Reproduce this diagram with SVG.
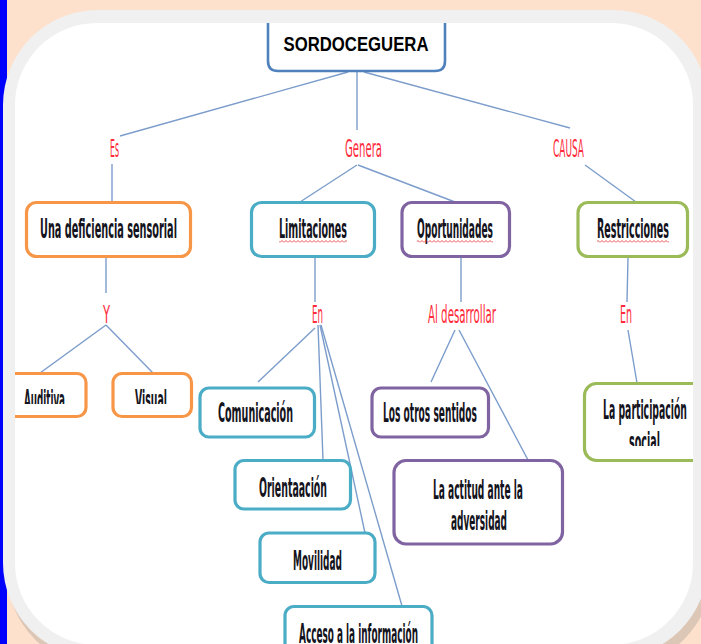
<svg xmlns="http://www.w3.org/2000/svg" width="701" height="644" viewBox="0 0 701 644">
<style>
.box{fill:#fff;stroke-width:3.2}
.or{stroke:#f79646}.tl{stroke:#4bacc6}.pu{stroke:#8064a2}.gr{stroke:#9bbb59}
.t{font-family:"Liberation Sans Narrow","DejaVu Sans Condensed","Liberation Sans",sans-serif;font-size:26px;font-weight:bold;fill:#141420;text-anchor:middle}
.r{font-family:"Liberation Sans Narrow","DejaVu Sans Condensed","Liberation Sans",sans-serif;font-size:25px;fill:#ff2a3a;text-anchor:middle}
.c line{stroke:#7c9dcb;stroke-width:1.4}
</style>
<defs>
<clipPath id="inner"><rect x="15" y="23" width="678" height="622" rx="82"/></clipPath>
<clipPath id="cutA"><rect x="0" y="0" width="701" height="404"/></clipPath>
<clipPath id="cutS"><rect x="0" y="0" width="701" height="446"/></clipPath>
<pattern id="wavy" width="4" height="3" patternUnits="userSpaceOnUse"><path d="M0,2.5 L2,0.5 L4,2.5" stroke="#e02020" fill="none" stroke-width="0.8"/></pattern>
</defs>
<rect width="701" height="644" fill="#fde1cc"/>
<rect x="0" y="0" width="7" height="644" fill="#0000ff"/>
<rect x="7" y="19" width="705" height="648" rx="95" fill="#dcc6b6"/>
<rect x="3" y="10" width="705" height="648" rx="95" fill="#f0f0f0"/>
<rect x="15" y="23" width="678" height="622" rx="82" fill="#fff"/>
<g clip-path="url(#inner)">
<g class="c" id="connectors">
<line x1="348" y1="72" x2="120" y2="136"/>
<line x1="357" y1="72" x2="357" y2="130"/>
<line x1="364" y1="72" x2="570" y2="128"/>
<line x1="112" y1="164" x2="112" y2="202"/>
<line x1="357" y1="165" x2="300" y2="202"/>
<line x1="358" y1="165" x2="455" y2="202"/>
<line x1="585" y1="165" x2="636" y2="202"/>
<line x1="106" y1="257" x2="106" y2="293"/>
<line x1="106" y1="325" x2="40" y2="373"/>
<line x1="106" y1="325" x2="153" y2="373"/>
<line x1="315" y1="257" x2="315" y2="302"/>
<line x1="315" y1="328" x2="258" y2="382"/>
<line x1="318" y1="325" x2="323" y2="460"/>
<line x1="320" y1="325" x2="365" y2="533"/>
<line x1="321" y1="325" x2="402" y2="606"/>
<line x1="461" y1="257" x2="461" y2="302"/>
<line x1="455" y1="330" x2="431" y2="382"/>
<line x1="459" y1="330" x2="528" y2="460"/>
<line x1="628" y1="257" x2="627" y2="302"/>
<line x1="628" y1="330" x2="637" y2="383"/>
</g>
<g id="labels">
<text class="r" x="114.5" y="157" textLength="9" lengthAdjust="spacingAndGlyphs">Es</text>
<text class="r" x="363.5" y="157" textLength="37" lengthAdjust="spacingAndGlyphs">Genera</text>
<text class="r" x="568.5" y="157" textLength="31" lengthAdjust="spacingAndGlyphs">CAUSA</text>
<text class="r" x="106.5" y="323" textLength="7" lengthAdjust="spacingAndGlyphs">Y</text>
<text class="r" x="317.5" y="323" textLength="11" lengthAdjust="spacingAndGlyphs">En</text>
<text class="r" x="462" y="323" textLength="68" lengthAdjust="spacingAndGlyphs">Al desarrollar</text>
<text class="r" x="626" y="323" textLength="12" lengthAdjust="spacingAndGlyphs">En</text>
</g>
<g id="n-title">
<path d="M268,10 V61 Q268,71 278,71 H435 Q445,71 445,61 V10" fill="#fff" stroke="#4f81bd" stroke-width="2.6"/>
<text x="356" y="50.5" font-family="Liberation Sans,Arial,sans-serif" font-size="19.5" font-weight="bold" text-anchor="middle" fill="#000" textLength="145" lengthAdjust="spacingAndGlyphs">SORDOCEGUERA</text>
</g>
<g id="n-deficiencia">
<rect class="box or" x="26.5" y="202.5" width="164" height="54" rx="10"/>
<text class="t" x="108.5" y="238" textLength="137" lengthAdjust="spacingAndGlyphs">Una deficiencia sensorial</text>
</g>
<g id="n-limitaciones">
<rect class="box tl" x="251.5" y="202.5" width="123" height="54" rx="10"/>
<text class="t" x="313" y="238" textLength="68" lengthAdjust="spacingAndGlyphs">Limitaciones</text>
<rect x="279" y="240" width="68" height="3" fill="url(#wavy)"/>
</g>
<g id="n-oportunidades">
<rect class="box pu" x="402" y="202.5" width="107.5" height="54" rx="10"/>
<text class="t" x="455" y="238" textLength="76" lengthAdjust="spacingAndGlyphs">Oportunidades</text>
<rect x="417" y="240" width="76" height="3" fill="url(#wavy)"/>
</g>
<g id="n-restricciones">
<rect class="box gr" x="578" y="202.5" width="109.5" height="54" rx="10"/>
<text class="t" x="633" y="238" textLength="72" lengthAdjust="spacingAndGlyphs">Restricciones</text>
<rect x="597" y="240" width="72" height="3" fill="url(#wavy)"/>
</g>
<g id="n-auditiva">
<rect class="box or" x="-20" y="373.5" width="106" height="43" rx="9"/>
<text class="t" x="44.5" y="409" textLength="41" lengthAdjust="spacingAndGlyphs" clip-path="url(#cutA)">Auditiva</text>
</g>
<g id="n-visual">
<rect class="box or" x="113" y="373.5" width="78.5" height="43" rx="9"/>
<text class="t" x="151" y="409" textLength="32" lengthAdjust="spacingAndGlyphs" clip-path="url(#cutA)">Visual</text>
</g>
<g id="n-comunicacion">
<rect class="box tl" x="200" y="388" width="114.5" height="49" rx="9"/>
<text class="t" x="255.5" y="422" textLength="75" lengthAdjust="spacingAndGlyphs">Comunicación</text>
</g>
<g id="n-otros">
<rect class="box pu" x="372" y="388" width="116.5" height="49" rx="9"/>
<text class="t" x="430" y="422" textLength="94" lengthAdjust="spacingAndGlyphs">Los otros sentidos</text>
</g>
<g id="n-participacion">
<rect class="box gr" x="584.5" y="383.5" width="150" height="77" rx="12"/>
<text class="t" x="645" y="419" textLength="84" lengthAdjust="spacingAndGlyphs">La participación</text>
<text class="t" x="644.5" y="451" textLength="31" lengthAdjust="spacingAndGlyphs" clip-path="url(#cutS)">social</text>
</g>
<g id="n-orientacion">
<rect class="box tl" x="235" y="460.5" width="115.5" height="48.5" rx="9"/>
<text class="t" x="293" y="497" textLength="68" lengthAdjust="spacingAndGlyphs">Orientaación</text>
</g>
<g id="n-movilidad">
<rect class="box tl" x="260" y="533" width="115" height="49.5" rx="9"/>
<text class="t" x="317.5" y="570" textLength="49" lengthAdjust="spacingAndGlyphs">Movilidad</text>
</g>
<g id="n-acceso">
<rect class="box tl" x="285" y="606.5" width="147" height="60" rx="9"/>
<text class="t" x="358.5" y="643" textLength="119" lengthAdjust="spacingAndGlyphs">Acceso a la información</text>
</g>
<g id="n-actitud">
<rect class="box pu" x="394" y="460.5" width="168.5" height="83.5" rx="12"/>
<text class="t" x="478" y="499" textLength="90" lengthAdjust="spacingAndGlyphs">La actitud ante la</text>
<text class="t" x="479" y="530" textLength="56" lengthAdjust="spacingAndGlyphs">adversidad</text>
</g>
</g>
</svg>
